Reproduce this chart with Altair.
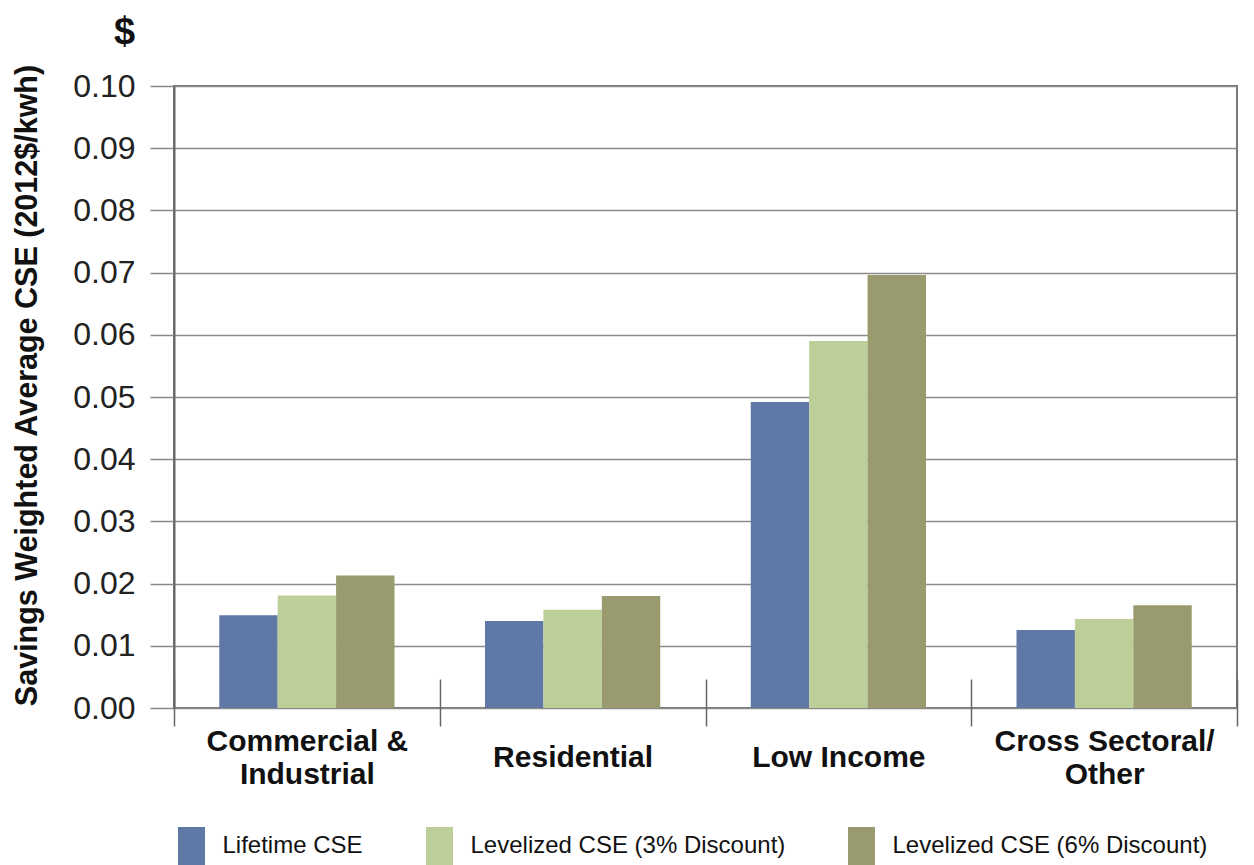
import altair as alt
import pandas as pd

categories = ["Commercial &\nIndustrial", "Residential", "Low Income", "Cross Sectoral/\nOther"]
series = ["Lifetime CSE", "Levelized CSE (3% Discount)", "Levelized CSE (6% Discount)"]
lifetime = [0.0149, 0.0140, 0.0492, 0.01255]
lev3 = [0.0181, 0.0158, 0.0590, 0.0143]
lev6 = [0.0213, 0.0180, 0.0696, 0.0165]
colors = ["#5f78a5", "#bccf98", "#999a6d"]
y_ticks = [0.0, 0.01, 0.02, 0.03, 0.04, 0.05, 0.06, 0.07, 0.08, 0.09, 0.10]

rows = []
for s, vals in zip(series, [lifetime, lev3, lev6]):
    for c, v in zip(categories, vals):
        rows.append({"cat": c, "series": s, "value": v})
df = pd.DataFrame(rows)

FONT = "Liberation Sans, Arial, sans-serif"
ZW = "\u200b"
label_expr = (
    "indexof(datum.label, '\\n') >= 0 ? "
    "[split(datum.label, '\\n')[0], '" + ZW + "', split(datum.label, '\\n')[1]] : "
    "['" + ZW + "', datum.label]"
)

chart = alt.Chart(df).mark_bar().encode(
    x=alt.X("cat:N", sort=categories,
            scale=alt.Scale(paddingInner=0, paddingOuter=0),
            axis=alt.Axis(title=None, labelAngle=0, domain=False, grid=False,
                          offset=-29, tickSize=47, tickBand="extent",
                          tickColor="#666", tickWidth=1.5,
                          labelExpr=label_expr, labelLimit=500,
                          labelFont=FONT, labelFontSize=30, labelFontWeight="bold",
                          labelColor="#111", labelBaseline="top", labelLineHeight=16.5,
                          labelPadding=0)),
    xOffset=alt.XOffset("series:N", sort=series,
                        scale=alt.Scale(paddingInner=0, paddingOuter=0.775)),
    y=alt.Y("value:Q", scale=alt.Scale(domain=[0, 0.10], nice=False),
            axis=alt.Axis(title="Savings Weighted Average CSE (2012$/kwh)",
                          values=y_ticks, format=".2f",
                          titleFont=FONT, titleFontSize=30.5, titleFontWeight="bold",
                          titleColor="#111", titleX=-147, titleY=299,
                          titleAlign="center", titleBaseline="middle",
                          labelFont=FONT, labelFontSize=32,
                          labelColor="#222", labelPadding=15,
                          tickSize=24, tickColor="#888", tickWidth=1.5,
                          domainColor="#666", domainWidth=2,
                          grid=True, gridColor="#8a8a8a", gridWidth=1.5)),
    color=alt.Color("series:N", sort=series,
                    scale=alt.Scale(domain=series, range=colors),
                    legend=alt.Legend(title=None, orient="none", legendX=-1.5, legendY=741,
                                      direction="horizontal", padding=0,
                                      symbolType="M-0.71,-1H0.71V1H-0.71Z",
                                      symbolSize=1444, symbolStrokeWidth=0,
                                      symbolOpacity=1,
                                      labelFont=FONT, labelFontSize=24,
                                      labelColor="#111", labelOffset=12,
                                      columnPadding=57, labelLimit=600)),
).properties(
    width=1063, height=622,
    title=alt.TitleParams("$", anchor="start", frame="group", dx=-60, dy=38, offset=20,
                          baseline="alphabetic", fontSize=38, fontWeight="bold",
                          font=FONT, color="#111"),
    padding={"left": 174, "top": 86, "right": 17, "bottom": 157},
    autosize=alt.AutoSizeParams(type="none"),
).configure_view(stroke="#777", strokeWidth=2)

chart.save("out.html", embed_options={"renderer": "svg", "actions": False})
